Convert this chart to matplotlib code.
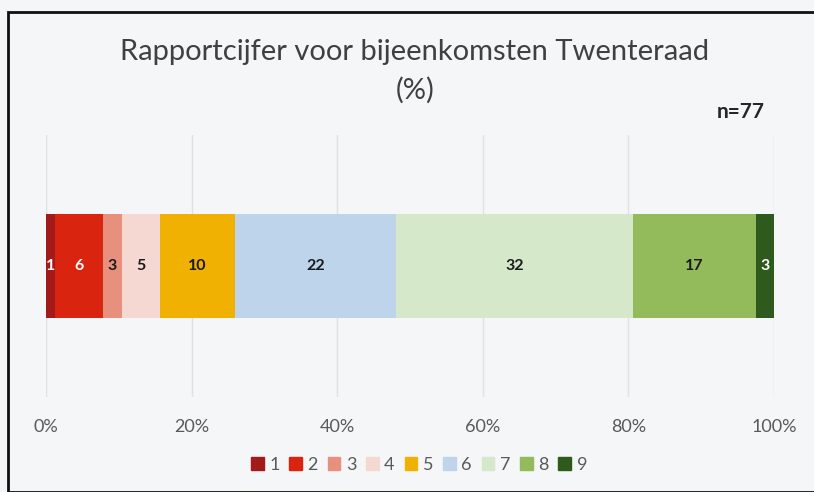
import matplotlib.pyplot as plt
from matplotlib.patches import Rectangle

# rapportcijfers 1 t/m 9, percentages (n=77)
cijfers = ['1', '2', '3', '4', '5', '6', '7', '8', '9']
percentages = [1.3, 6.5, 2.6, 5.2, 10.4, 22.1, 32.5, 16.9, 2.6]
labels = ['1', '6', '3', '5', '10', '22', '32', '17', '3']
kleuren = ['#a31a1a', '#d9240f', '#e8907e', '#f5d8d2', '#f0b103',
           '#bdd4eb', '#d5e8c9', '#94bb5b', '#2f5a1e']
tekstkleur = ['white', 'white', '#1a1a1a', '#1a1a1a', '#1a1a1a',
              '#1a1a1a', '#1a1a1a', '#1a1a1a', 'white']

plt.rcParams['font.family'] = ['Lato', 'DejaVu Sans']
bg = '#f5f6f7'

fig = plt.figure(figsize=(8.14, 4.92), dpi=100, facecolor=bg)
ax = fig.add_axes([46/814, 95/492, 728/814, 262/492], facecolor=bg)

links = 0
for p, lab, c, tc in zip(percentages, labels, kleuren, tekstkleur):
    ax.barh(0, p, left=links, height=0.4, color=c, zorder=3)
    ax.text(links + p/2, 0, lab, ha='center', va='center', color=tc,
            fontsize=11.5, fontweight='bold', zorder=4)
    links += p

ax.set_xlim(0, 100)
ax.set_ylim(-0.5, 0.5)
ax.set_xticks([0, 20, 40, 60, 80, 100])
ax.set_xticklabels(['0%', '20%', '40%', '60%', '80%', '100%'])
ax.set_yticks([])
ax.grid(axis='x', color='#e1e1e1', linewidth=1, zorder=0)
for s in ax.spines.values():
    s.set_visible(False)
ax.tick_params(axis='x', length=0, pad=16, labelsize=13, labelcolor='#595959')

fig.text(415/814, 1 - 52/492, 'Rapportcijfer voor bijeenkomsten Twenteraad',
         ha='center', va='center', fontsize=21, color='#404040')
fig.text(415/814, 1 - 90/492, '(%)', ha='center', va='center', fontsize=21,
         color='#404040')
fig.text(741/814, 1 - 112/492, 'n=77', ha='center', va='center',
         fontsize=15, fontweight='bold', color='#262626')

handles = [Rectangle((0, 0), 1, 1, color=c) for c in kleuren]
fig.legend(handles, cijfers, loc='center', bbox_to_anchor=(419/814, 1 - 465/492),
           ncol=9, frameon=False, handlelength=0.7, handleheight=0.7,
           handletextpad=0.3, columnspacing=0.55, fontsize=13,
           labelcolor='#595959')

fig.add_artist(Rectangle((8/814, 0), 1.0, 1 - 12/492, transform=fig.transFigure,
                         fill=False, edgecolor='#111111', linewidth=2,
                         clip_on=False))

fig.savefig('out.png', dpi=100, facecolor=bg)
